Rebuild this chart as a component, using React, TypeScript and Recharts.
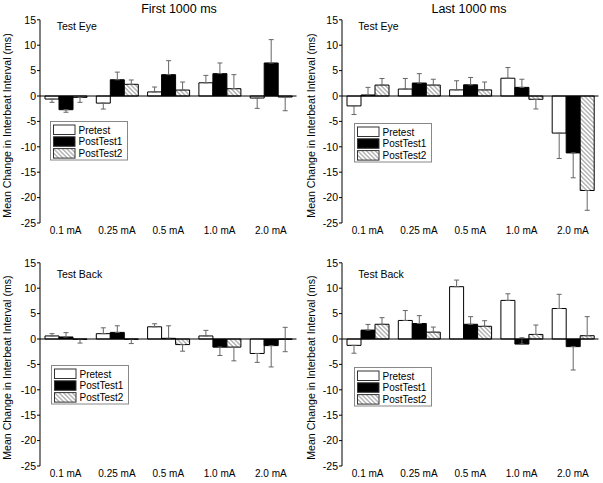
import React from 'react';
import { BarChart, Bar, XAxis, YAxis, ErrorBar, ReferenceLine, Legend } from 'recharts';

const categories = ['0.1 mA', '0.25 mA', '0.5 mA', '1.0 mA', '2.0 mA'];
const yTicks = [15, 10, 5, 0, -5, -10, -15, -20, -25];
const seriesNames = ['Pretest', 'PostTest1', 'PostTest2'];

// errors are [down, up] magnitudes
// First 1000 ms – Test Eye
const eyeFirstPre = [-0.6, -1.4, 0.8, 2.6, -0.4];
const eyeFirstPreErr = [[0.65, 0], [1.17, 0], [0, 0.97], [0, 1.46], [2.03, 0]];
const eyeFirstPost1 = [-2.7, 3.2, 4.2, 4.4, 6.5];
const eyeFirstPost1Err = [[0.5, 0], [0, 1.5], [0, 2.75], [0, 2.1], [0, 4.6]];
const eyeFirstPost2 = [-0.27, 2.3, 1.17, 1.44, -0.2];
const eyeFirstPost2Err = [[0.98, 0], [0, 0.85], [0, 1.58], [0, 2.76], [2.7, 0]];

// Last 1000 ms – Test Eye
const eyeLastPre = [-1.95, 1.37, 1.2, 3.5, -7.3];
const eyeLastPreErr = [[1.7, 0], [0, 2.08], [0, 1.8], [0, 2.1], [5.0, 0]];
const eyeLastPost1 = [0.2, 2.55, 2.2, 1.7, -11.2];
const eyeLastPost1Err = [[0, 1.5], [0, 1.85], [0, 1.45], [0, 1.6], [4.9, 0]];
const eyeLastPost2 = [2.15, 2.15, 1.2, -0.65, -18.6];
const eyeLastPost2Err = [[0, 1.3], [0, 1.15], [0, 1.55], [1.9, 0], [3.9, 0]];

// First 1000 ms – Test Back
const backFirstPre = [0.6, 1.05, 2.4, 0.6, -2.85];
const backFirstPreErr = [[0, 0.45], [0, 1.15], [0, 0.6], [0, 1.1], [1.75, 0]];
const backFirstPost1 = [0.4, 1.3, 0.13, -1.6, -1.3];
const backFirstPost1Err = [[0, 0.85], [0, 1.3], [0, 2.47], [1.65, 0], [4.2, 0]];
const backFirstPost2 = [-0.05, -0.05, -1.1, -1.6, -0.05];
const backFirstPost2Err = [[0.75, 0], [0.85, 0], [1.3, 0], [2.7, 0], [2.45, 2.35]];

// Last 1000 ms – Test Back
const backLastPre = [-1.25, 3.65, 10.3, 7.6, 6.0];
const backLastPreErr = [[1.55, 0], [0, 1.95], [0, 1.3], [0, 1.3], [0, 2.8]];
const backLastPost1 = [1.75, 3.05, 2.9, -1.0, -1.5];
const backLastPost1Err = [[0, 1.12], [0, 1.55], [0, 1.5], [0, 1.25], [4.6, 0]];
const backLastPost2 = [2.9, 1.35, 2.5, 0.9, 0.65];
const backLastPost2Err = [[0, 1.3], [0, 1.0], [0, 1.1], [0, 1.85], [0, 3.75]];

const FONT = "'Liberation Sans', Arial, Helvetica, sans-serif";
const fills = ['#ffffff', '#000000', 'url(#hatch)'];

function LegendBox() {
  return (
    <svg width={78} height={40} style={{ display: 'block', fontFamily: FONT }}>
      <rect x={0.5} y={0.5} width={77} height={38.5} fill="#fff" stroke="#888" />
      {seriesNames.map((n, i) => (
        <g key={n}>
          <rect x={3.5} y={4 + i * 11.8} width={21.5} height={9.5} fill={fills[i]} stroke="#333" />
          <text x={28.5} y={12.6 + i * 11.8} fontSize={10} fill="#000">{n}</text>
        </g>
      ))}
    </svg>
  );
}

type PanelProps = {
  left: number; top: number;
  pre: number[]; preErr: number[][];
  post1: number[]; post1Err: number[][];
  post2: number[]; post2Err: number[][];
  legendX: number; legendY: number;
};

function Panel(p: PanelProps) {
  const data = categories.map((c, i) => ({
    cat: c,
    pre: p.pre[i], preErr: p.preErr[i],
    post1: p.post1[i], post1Err: p.post1Err[i],
    post2: p.post2[i], post2Err: p.post2Err[i],
  }));
  const eb = { stroke: '#666', strokeWidth: 1, width: 2.5 };
  return (
    <div style={{ position: 'absolute', left: p.left, top: p.top }}>
      <BarChart width={300} height={240} data={data}
        margin={{ top: 19.8, right: 3.5, bottom: 0, left: 0 }} barGap={0} barSize={14}>
        <XAxis dataKey="cat" axisLine={false} tickLine={false} tickSize={0} tickMargin={4}
          height={17} interval={0} tick={{ fontSize: 10, fill: '#000' }} />
        <YAxis domain={[-25, 15]} ticks={yTicks} width={40} tickSize={3} tickMargin={1}
          interval={0} allowDataOverflow axisLine={{ stroke: '#000' }} tickLine={{ stroke: '#000' }}
          tick={{ fontSize: 10.5, fill: '#000' }} />
        <Bar dataKey="pre" name="Pretest" fill={fills[0]} stroke="#000" strokeWidth={1} isAnimationActive={false}>
          <ErrorBar dataKey="preErr" direction="y" {...eb} />
        </Bar>
        <Bar dataKey="post1" name="PostTest1" fill={fills[1]} stroke="#000" strokeWidth={1} isAnimationActive={false}>
          <ErrorBar dataKey="post1Err" direction="y" {...eb} />
        </Bar>
        <Bar dataKey="post2" name="PostTest2" fill={fills[2]} stroke="#000" strokeWidth={1} isAnimationActive={false}>
          <ErrorBar dataKey="post2Err" direction="y" {...eb} />
        </Bar>
        <ReferenceLine y={0} stroke="#000" strokeWidth={1} />
        <Legend layout="vertical" align="center" verticalAlign="middle"
          content={() => <LegendBox />}
          wrapperStyle={{ left: p.legendX, top: p.legendY, width: 'auto', height: 'auto' }} />
      </BarChart>
    </div>
  );
}

export default function App() {
  const yLabel = 'Mean Change in Interbeat Interval (ms)';
  return (
    <div style={{ position: 'absolute', left: 0, top: 0, width: 603, height: 483, background: '#fff', fontFamily: FONT }}>
      <svg width={0} height={0} style={{ position: 'absolute' }}>
        <defs>
          <pattern id="hatch" patternUnits="userSpaceOnUse" width={3.1} height={3.1} patternTransform="rotate(-45)">
            <rect width={3.1} height={3.1} fill="#fff" />
            <line x1={1.55} y1={0} x2={1.55} y2={3.1} stroke="#777" strokeWidth={0.8} />
          </pattern>
        </defs>
      </svg>
      <Panel left={0} top={0} pre={eyeFirstPre} preErr={eyeFirstPreErr} post1={eyeFirstPost1} post1Err={eyeFirstPost1Err}
        post2={eyeFirstPost2} post2Err={eyeFirstPost2Err} legendX={49.5} legendY={121.3} />
      <Panel left={302} top={0} pre={eyeLastPre} preErr={eyeLastPreErr} post1={eyeLastPost1} post1Err={eyeLastPost1Err}
        post2={eyeLastPost2} post2Err={eyeLastPost2Err} legendX={51.5} legendY={122.7} />
      <Panel left={0} top={242.9} pre={backFirstPre} preErr={backFirstPreErr} post1={backFirstPost1} post1Err={backFirstPost1Err}
        post2={backFirstPost2} post2Err={backFirstPost2Err} legendX={50.7} legendY={122.4} />
      <Panel left={302} top={242.9} pre={backLastPre} preErr={backLastPreErr} post1={backLastPost1} post1Err={backLastPost1Err}
        post2={backLastPost2} post2Err={backLastPost2Err} legendX={52} legendY={123.8} />
      <svg width={603} height={483} style={{ position: 'absolute', left: 0, top: 0, pointerEvents: 'none', fontFamily: FONT }}>
        <text x={179} y={13.3} fontSize={12.5} textAnchor="middle" fill="#000">First 1000 ms</text>
        <text x={469} y={13.3} fontSize={12.5} textAnchor="middle" fill="#000">Last 1000 ms</text>
        <text x={56.7} y={30.2} fontSize={10.5} fill="#000">Test Eye</text>
        <text x={358.3} y={30.2} fontSize={10.5} fill="#000">Test Eye</text>
        <text x={56.7} y={278.2} fontSize={10.5} fill="#000">Test Back</text>
        <text x={358.3} y={278.2} fontSize={10.5} fill="#000">Test Back</text>
        <text x={10.8} y={125.5} fontSize={10.6} textAnchor="middle" fill="#000" transform="rotate(-90 10.8 125.5)">{yLabel}</text>
        <text x={314.8} y={125.5} fontSize={10.6} textAnchor="middle" fill="#000" transform="rotate(-90 314.8 125.5)">{yLabel}</text>
        <text x={10.8} y={367.6} fontSize={10.6} textAnchor="middle" fill="#000" transform="rotate(-90 10.8 367.6)">{yLabel}</text>
        <text x={314.8} y={367.6} fontSize={10.6} textAnchor="middle" fill="#000" transform="rotate(-90 314.8 367.6)">{yLabel}</text>
      </svg>
    </div>
  );
}
